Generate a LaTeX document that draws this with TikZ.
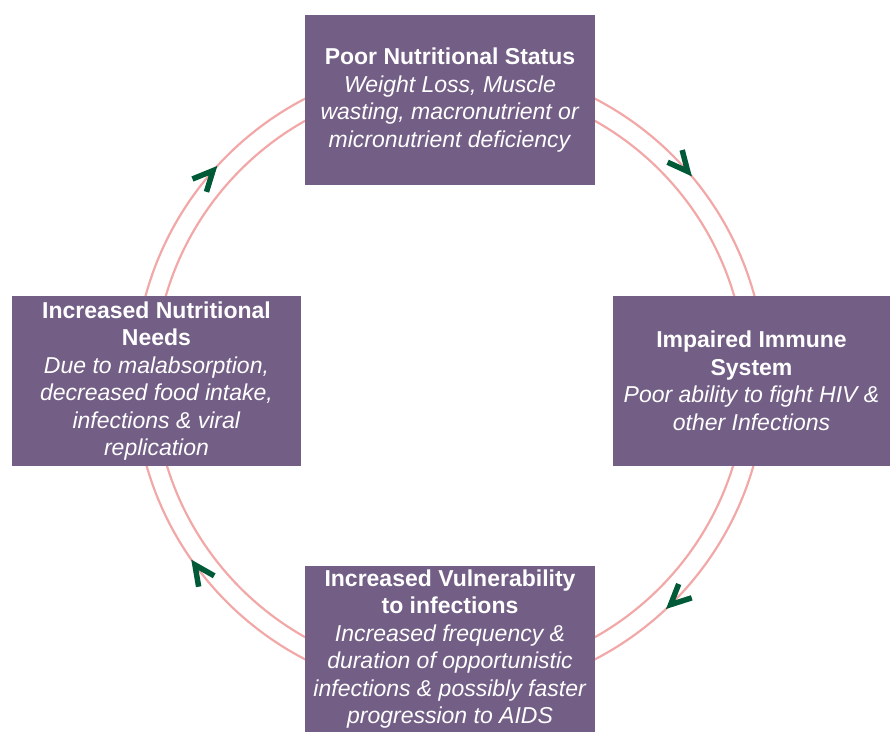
\documentclass[tikz,border=0pt]{standalone}
\usepackage{fontspec}
\setmainfont{Liberation Sans}
\usetikzlibrary{arrows.meta, decorations.markings}
\definecolor{stagepurple}{RGB}{115,94,134}
\definecolor{ringpink}{RGB}{243,168,168}
\definecolor{chevgreen}{RGB}{0,90,55}
\tikzset{chevtip/.tip={Straight Barb[length=20pt, width=19pt, line width=5.5pt, color=chevgreen]}}

\begin{document}
\begin{tikzpicture}[x=1pt, y=1pt,
    stage/.style={fill=stagepurple, text=white, align=center, inner sep=0pt,
      minimum width=290pt, minimum height=170pt,
      font=\fontsize{23pt}{27.5pt}\selectfont},
    ring/.style={draw=ringpink, line width=2.2pt},
    chevrons/.style={postaction={decorate}, decoration={markings,
      mark=at position 0.111 with {\arrowreversed{chevtip}},
      mark=at position 0.382 with {\arrowreversed{chevtip}},
      mark=at position 0.597 with {\arrowreversed{chevtip}},
      mark=at position 0.870 with {\arrowreversed{chevtip}}}}]
  \useasboundingbox (0,0) rectangle (890,732);
  \coordinate (hub) at (450,353);
  % the cycle
  \draw[ring] (hub) circle (296pt);
  \draw[ring, chevrons] (hub) circle (315.5pt);
  \node[stage] (status) at (450,632)
    {\textbf{Poor Nutritional Status}\\ \textit{Weight Loss, Muscle}\\
     \textit{wasting, macronutrient or}\\ \textit{micronutrient deficiency}};
  \node[stage, minimum width=277pt] (immune) at (751.5,351)
    {\textbf{Impaired Immune}\\ \textbf{System}\\
     \textit{Poor ability to fight HIV \&}\\ \textit{other Infections}};
  \node[stage, minimum height=166pt] (vulner) at (450,83)
    {\textbf{Increased Vulnerability}\\ \textbf{to infections}\\
     \textit{Increased frequency \&}\\ \textit{duration of opportunistic}\\
     \textit{infections \& possibly faster}\\ \textit{progression to AIDS}};
  \node[stage, minimum width=289pt] (needs) at (156.5,351)
    {\textbf{Increased Nutritional}\\ \textbf{Needs}\\
     \textit{Due to malabsorption,}\\ \textit{decreased food intake,}\\
     \textit{infections \& viral}\\ \textit{replication}};
\end{tikzpicture}
\end{document}
